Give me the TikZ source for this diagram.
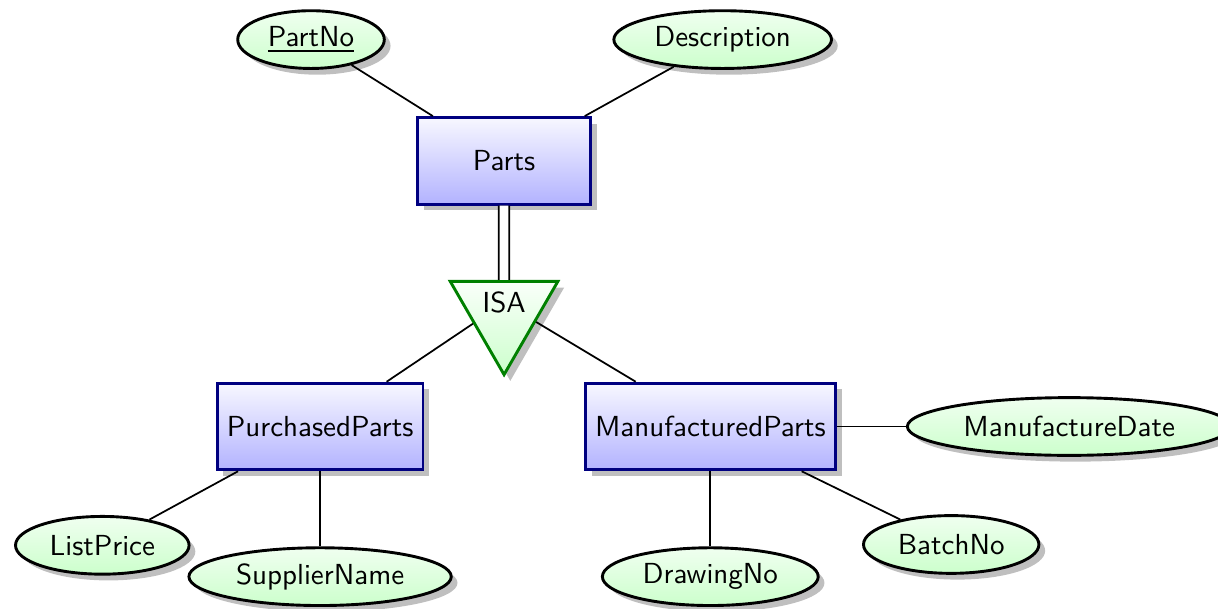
\documentclass[tikz,border=0pt]{standalone}
\usetikzlibrary{shapes.geometric,shadows}
\tikzset{
  entity/.style={rectangle, draw=blue!50!black, line width=1pt, top color=blue!3, bottom color=blue!30, drop shadow, minimum width=2.1cm, minimum height=1.05cm},
  attribute/.style={ellipse, draw=black, line width=1pt, top color=green!6, bottom color=green!20, drop shadow, inner ysep=1pt, inner xsep=3pt, minimum height=0.7cm},
  isa/.style={isosceles triangle, isosceles triangle apex angle=60, shape border rotate=-90, draw=green!50!black, line width=1pt, top color=green!2, bottom color=green!20, drop shadow, inner sep=1pt, minimum height=1.13cm},
  link/.style={line width=0.6pt}
}

\begin{document}
\begin{tikzpicture}[font=\sffamily]
		%%%%% START %%%%%
		\useasboundingbox (0, 0) rectangle (14.764, -7.382);
		
		\node[entity] (parts) at (6.11, -1.95) {Parts};
		\node[attribute] (partno) at (3.77, -0.48) {\underline{PartNo}};
		\node[attribute] (descr) at (8.76, -0.48) {Description};
		\draw[link] (parts) -- (partno);
		\draw[link] (parts) -- (descr);
		
		\node[isa] (isa) at (6.11, -3.67) {ISA};
		\draw[link, double, double distance=3pt] (parts) -- (isa);
		
		\node[entity] (purch) at (3.88, -5.17) {PurchasedParts};
		\node[entity] (manuf) at (8.61, -5.17) {ManufacturedParts};
		\draw[link] (isa) -- (purch);
		\draw[link] (isa) -- (manuf);
		
		\node[attribute] (price) at (1.24, -6.61) {ListPrice};
		\node[attribute] (supplier) at (3.88, -6.99) {SupplierName};
		\draw[link] (purch) -- (price);
		\draw[link] (purch) -- (supplier);
		
		\node[attribute] (mdate) at (12.96, -5.17) {ManufactureDate};
		\node[attribute] (drawing) at (8.61, -6.99) {DrawingNo};
		\node[attribute] (batch) at (11.53, -6.60) {BatchNo};
		\draw[link] (manuf) -- (mdate);
		\draw[link] (manuf) -- (drawing);
		\draw[link] (manuf) -- (batch);
		%%%%% END %%%%%
\end{tikzpicture}
\end{document}
